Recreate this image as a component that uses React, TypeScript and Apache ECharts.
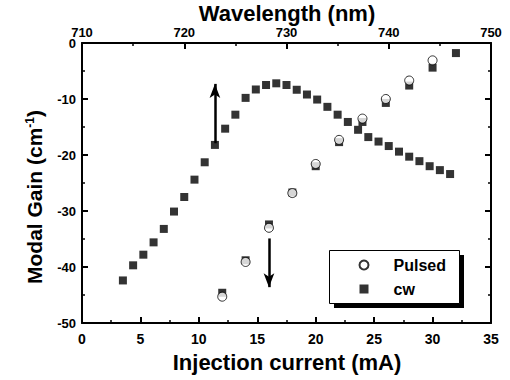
import React, { useEffect, useRef } from "react";
import * as echarts from "echarts";

const FONT = '"Liberation Sans", Arial, sans-serif';

// Gain spectrum (vs wavelength, top axis)
const wavelength = [714, 715, 716, 717, 718, 719, 720, 721, 722, 723, 724, 725, 726, 727, 728, 729, 730, 731, 732, 733, 734, 735, 736, 737, 738, 739, 740, 741, 742, 743, 744, 745, 746];
const spectrumGain = [-42.4, -39.7, -37.8, -35.6, -33.2, -30.1, -27.5, -24.4, -21.3, -18.2, -15.3, -12.8, -9.8, -8.3, -7.5, -7.2, -7.5, -8.35, -9.2, -10.1, -11.4, -12.8, -14.1, -15.5, -16.8, -17.6, -18.4, -19.4, -20.3, -21.1, -22.0, -22.7, -23.4];

// Peak gain vs injection current (bottom axis)
const currentCw = [12, 14, 16, 18, 20, 22, 24, 26, 28, 30, 32];
const gainCw = [-44.6, -38.8, -32.4, -26.7, -22.0, -17.7, -14.1, -10.7, -7.6, -4.4, -1.8];
const currentPulsed = [12, 14, 16, 18, 20, 22, 24, 26, 28, 30];
const gainPulsed = [-45.3, -39.1, -33.0, -26.8, -21.6, -17.3, -13.5, -10.0, -6.7, -3.1];

const xTicksBottom = { min: 0, max: 35, interval: 5 };
const xTicksTop = { min: 710, max: 750, interval: 10 };
const yTicks = { min: -50, max: 0, interval: 10 };

const zip = (a: number[], b: number[]) => a.map((v, i) => [v, b[i]]);

export default function App() {
  const ref = useRef<HTMLDivElement>(null);
  useEffect(() => {
    if (!ref.current) return;
    const chart = echarts.init(ref.current, null, { renderer: "svg" });
    const axisCommon = {
      type: "value" as const,
      splitLine: { show: false },
      axisLine: { show: true, onZero: false, lineStyle: { color: "#000", width: 2 } },
      axisTick: { show: true, inside: true, length: 6, lineStyle: { color: "#000", width: 2 } },
      minorTick: { show: true, splitNumber: 2, length: 3, lineStyle: { color: "#000", width: 1.5 } },
      minorSplitLine: { show: false },
    };
    const labelStyle = (size: number, margin: number) => ({
      color: "#000",
      fontFamily: FONT,
      fontWeight: "bold" as const,
      fontSize: size,
      margin,
    });
    chart.setOption({
      animation: false,
      backgroundColor: "#fff",
      grid: { left: 82, right: 19, top: 43, bottom: 57, containLabel: false },
      xAxis: [
        { ...axisCommon, position: "bottom", ...xTicksBottom, axisLabel: labelStyle(14, 9) },
        { ...axisCommon, position: "top", ...xTicksTop, axisLabel: labelStyle(13, 4) },
      ],
      yAxis: [
        { ...axisCommon, position: "left", ...yTicks, axisLabel: labelStyle(13, 6) },
        { ...axisCommon, position: "right", ...yTicks, axisLabel: { show: false } },
      ],
      legend: {
        data: ["Pulsed", "cw"],
        orient: "vertical",
        left: 353.5,
        top: 252,
        itemWidth: 9,
        itemHeight: 9,
        itemGap: 8,
        z: 10,
        textStyle: { color: "#000", fontFamily: FONT, fontWeight: "bold", fontSize: 16, padding: [0, 0, 0, 20] },
      },
      graphic: [
        { type: "rect", z: 1, shape: { x: 334, y: 255, width: 130, height: 53 }, style: { fill: "#000" } },
        { type: "rect", z: 2, shape: { x: 329.5, y: 250.5, width: 130, height: 53 }, style: { fill: "#fff", stroke: "#000", lineWidth: 1 } },
        {
          type: "text", z: 20, x: 287, y: 13,
          style: { text: "Wavelength (nm)", font: `bold 22px ${FONT}`, fill: "#000", textAlign: "center", textVerticalAlign: "middle" },
        },
        {
          type: "text", z: 20, x: 287, y: 362,
          style: { text: "Injection current (mA)", font: `bold 22px ${FONT}`, fill: "#000", textAlign: "center", textVerticalAlign: "middle" },
        },
        {
          type: "text", z: 20, x: 34, y: 197, rotation: Math.PI / 2,
          style: {
            text: "Modal Gain (cm{sup|-1})",
            font: `bold 21px ${FONT}`,
            fill: "#000",
            textAlign: "center",
            textVerticalAlign: "middle",
            rich: { sup: { fontSize: 12, fontWeight: "bold", fontFamily: FONT, fill: "#000", verticalAlign: "top" } },
          },
        },
      ],
      series: [
        {
          name: "cw",
          type: "scatter",
          xAxisIndex: 1,
          yAxisIndex: 0,
          symbol: "rect",
          symbolSize: 8,
          itemStyle: { color: "#000" },
          data: zip(wavelength, spectrumGain),
          markLine: {
            silent: true,
            symbol: ["none", "arrow"],
            symbolSize: [8, 14],
            label: { show: false },
            lineStyle: { color: "#000", width: 2.5, type: "solid" },
            data: [[{ coord: [723, -17.9] }, { coord: [723, -7.3] }]],
          },
        },
        {
          name: "cw",
          type: "scatter",
          xAxisIndex: 0,
          yAxisIndex: 0,
          symbol: "rect",
          symbolSize: 8,
          itemStyle: { color: "#000" },
          data: zip(currentCw, gainCw),
          markLine: {
            silent: true,
            symbol: ["none", "arrow"],
            symbolSize: [8, 14],
            label: { show: false },
            lineStyle: { color: "#000", width: 2.5, type: "solid" },
            data: [[{ coord: [16, -34.9] }, { coord: [16, -43.6] }]],
          },
        },
        {
          name: "Pulsed",
          type: "scatter",
          xAxisIndex: 0,
          yAxisIndex: 0,
          symbol: "circle",
          symbolSize: 9,
          z: 5,
          itemStyle: { color: "#fff", borderColor: "#000", borderWidth: 1 },
          data: zip(currentPulsed, gainPulsed),
        },
      ],
    });
    return () => chart.dispose();
  }, []);
  return <div ref={ref} style={{ width: 510, height: 380, position: "absolute", left: 0, top: 0 }} />;
}
